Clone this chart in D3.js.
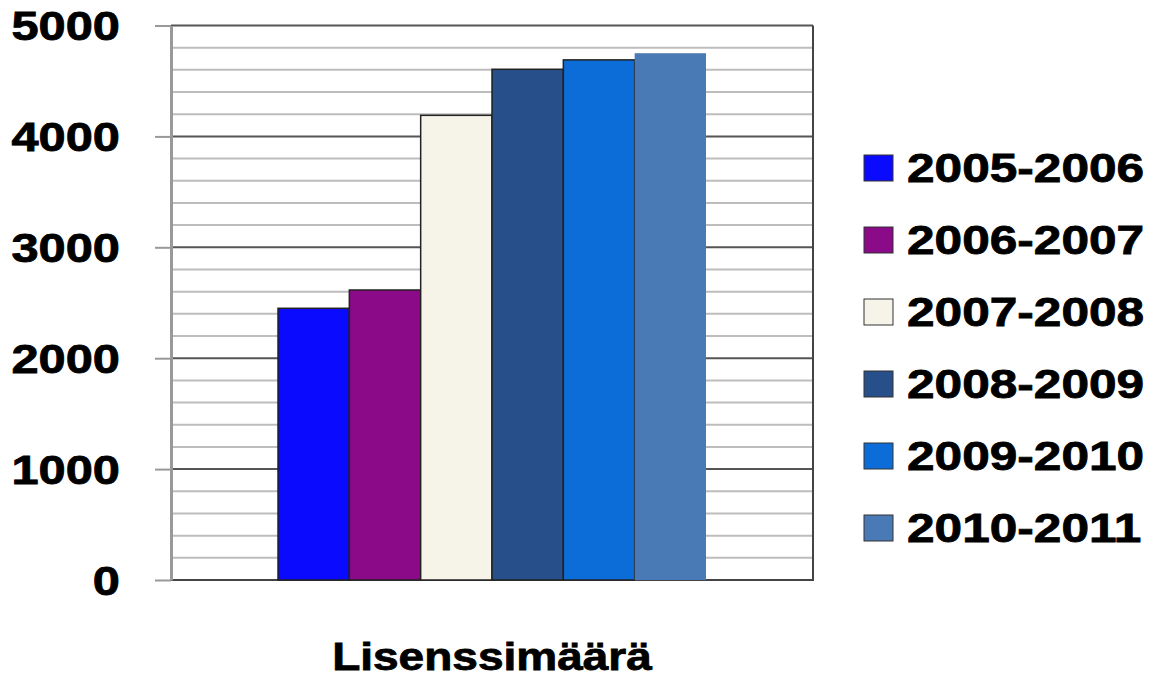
<!DOCTYPE html>
<html>
<head>
<meta charset="utf-8">
<script src="https://cdn.jsdelivr.net/npm/d3@7"></script>
<style>
  body { margin: 0; background: #fff; }
  svg text { font-family: "Liberation Sans", Arial, sans-serif; font-weight: bold; fill: #000; }
</style>
</head>
<body>
<svg width="1163" height="677"></svg>
<script>
(function() {
    "use strict";

    var categories = ["Lisenssimäärä"];
    var seasons = ["2005-2006", "2006-2007", "2007-2008", "2008-2009", "2009-2010", "2010-2011"];
    var values = [2450, 2615, 4190, 4605, 4690, 4750];
    var colors = ["#0a0aff", "#8a0a88", "#f6f3e8", "#27508a", "#0d6dd8", "#4a7ab5"];
    var yTicks = [0, 1000, 2000, 3000, 4000, 5000];

    var svg = d3.select("svg");
    var left = 171, right = 813, top = 25.5, bottom = 580;
    var sx = 1.22; // text is stretched sideways in the original

    var y = d3.scaleLinear().domain([0, 5000]).range([bottom, top]);
    var x0 = d3.scaleBand().domain(categories).range([left, right]).padding(0.2);
    var x1 = d3.scaleBand().domain(seasons).range([0, x0.bandwidth()]);

    // minor grid every 200
    svg.append("g").selectAll("line")
        .data(d3.range(200, 5000, 200).filter(function(v) { return v % 1000 !== 0; }))
        .enter().append("line")
        .attr("x1", left).attr("x2", right)
        .attr("y1", function(d) { return y(d); })
        .attr("y2", function(d) { return y(d); })
        .attr("stroke", "#bdbdbd").attr("stroke-width", 2);

    // major grid
    svg.append("g").selectAll("line")
        .data(yTicks.slice(1))
        .enter().append("line")
        .attr("x1", left).attr("x2", right)
        .attr("y1", function(d) { return y(d); })
        .attr("y2", function(d) { return y(d); })
        .attr("stroke", "#555").attr("stroke-width", 2);

    // right + bottom frame
    svg.append("path")
        .attr("d", "M" + right + "," + top + "V" + bottom + "H" + left)
        .attr("fill", "none").attr("stroke", "#444").attr("stroke-width", 2);

    // bars
    svg.append("g").selectAll("rect")
        .data(values)
        .enter().append("rect")
        .attr("x", function(d, i) { return x0(categories[0]) + x1(seasons[i]); })
        .attr("width", x1.bandwidth())
        .attr("y", function(d) { return y(d); })
        .attr("height", function(d) { return y(0) - y(d); })
        .attr("fill", function(d, i) { return colors[i]; })
        .attr("stroke", function(d, i) { return i === 5 ? "none" : "#222"; })
        .attr("stroke-width", 1.5);

    // y axis
    var yAxis = svg.append("g")
        .attr("transform", "translate(" + left + ",0)")
        .call(d3.axisLeft(y).tickValues(yTicks).tickFormat(d3.format("d")).tickSize(16).tickSizeOuter(0));
    yAxis.select(".domain").attr("stroke", "#999").attr("stroke-width", 3);
    yAxis.selectAll(".tick line").attr("stroke", "#999").attr("stroke-width", 2);
    yAxis.selectAll(".tick text")
        .attr("x", -51 / sx)
        .attr("dy", "0.36em")
        .attr("transform", "scale(" + sx + ",1)")
        .style("font-size", "40px")
        .style("font-family", "Liberation Sans, Arial, sans-serif")
        .style("font-weight", "bold")
        .style("stroke", "#000").style("stroke-width", 0.8);

    // x label
    svg.append("text")
        .attr("transform", "translate(" + (x0(categories[0]) + x0.bandwidth() / 2) + ",670) scale(" + (sx - 0.04) + ",1)")
        .attr("text-anchor", "middle")
        .style("font-size", "39px")
        .style("stroke", "#000").style("stroke-width", 0.8)
        .text(categories[0]);

    // legend
    var lg = svg.append("g").selectAll("g")
        .data(seasons)
        .enter().append("g")
        .attr("transform", function(d, i) { return "translate(864," + (168 + i * 72) + ")"; });
    lg.append("rect")
        .attr("x", 0).attr("y", -13)
        .attr("width", 29).attr("height", 26)
        .attr("fill", function(d, i) { return colors[i]; })
        .attr("stroke", "#333").attr("stroke-width", 1);
    lg.append("text")
        .attr("transform", "translate(43,14) scale(1.24,1)")
        .style("font-size", "40px")
        .style("stroke", "#000").style("stroke-width", 0.8)
        .text(function(d) { return d; });
})();
</script>
</body>
</html>
